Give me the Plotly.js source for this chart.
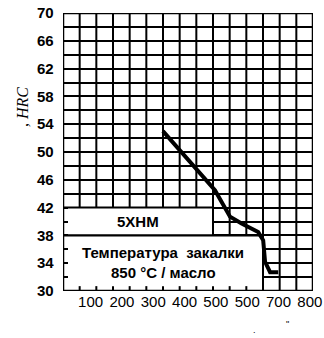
<!DOCTYPE html>
<html>
<head>
<meta charset="utf-8">
<script src="https://cdn.plot.ly/plotly-3.0.1.min.js"></script>
<style>html,body{margin:0;padding:0;background:#fff;}#chart{width:324px;height:338px;}</style>
</head>
<body>
<div id="chart"></div>
<script>
// Tempering temperature (°C) vs hardness (HRC)
const temps = [331, 417, 497, 545, 582, 635, 651, 657, 673, 699];
const hrc   = [53.0, 48.7, 44.5, 40.7, 39.7, 38.5, 37.3, 34.2, 32.7, 32.7];
// x tick labels as printed in the original (second "500" is as printed)
const xTickVals  = [100, 200, 300, 400, 500, 600, 700, 800];
const xTickText  = ['100', '200', '300', '400', '500', '500', '700', '800'];
const yTickVals  = [30, 32, 34, 36, 38, 40, 42, 44, 46, 48, 50, 52, 54, 56, 58, 60, 62, 64, 66, 68, 70];
const yTickText  = ['30', '', '34', '', '38', '', '42', '', '46', '', '50', '', '54', '', '58', '', '62', '', '66', '', '70'];
const steelGrade = '5ХНМ';
const noteLine1  = 'Температура  закалки';
const noteLine2  = '850 °С / масло';
const yTitle     = ', <i>HRC</i>';

// axis frame: the printed grid has 15 equal columns across the x range
const xMin = 12, xMax = 810, nCols = 15;
const yMin = 30, yMax = 70;
const colStep = (xMax - xMin) / nCols;
const box1Cols = 9, box2Cols = 12, box1Top = 42, box2Top = 38;
const tickLen = 0.7; // HRC units, about 5 px

const sans = 'Liberation Sans, Arial, sans-serif';

const shapes = [];
for (let k = 1; k < nCols; k++) {
  const gx = xMin + k * colStep;
  shapes.push({type: 'line', xref: 'x', yref: 'y', x0: gx, x1: gx, y0: yMin, y1: yMax,
               line: {color: '#000', width: 2}, layer: 'between'});
}
shapes.push({type: 'rect', xref: 'x', yref: 'y', x0: xMin, x1: xMin + box1Cols * colStep, y0: box2Top, y1: box1Top,
             fillcolor: '#fff', line: {color: '#000', width: 2}, layer: 'between'});
shapes.push({type: 'rect', xref: 'x', yref: 'y', x0: xMin, x1: xMin + box2Cols * colStep, y0: yMin, y1: box2Top,
             fillcolor: '#fff', line: {color: '#000', width: 2}, layer: 'between'});
for (let k = 1; k < box2Cols; k++) {
  const gx = xMin + k * colStep;
  shapes.push({type: 'line', xref: 'x', yref: 'y', x0: gx, x1: gx, y0: yMin, y1: yMin + tickLen,
               line: {color: '#000', width: 2}, layer: 'between'});
}
// outer frame
shapes.push({type: 'rect', xref: 'x', yref: 'y', x0: xMin, x1: xMax, y0: yMin, y1: yMax,
             line: {color: '#000', width: 2.5}, layer: 'above'});

const annotations = [
  {xref: 'x', yref: 'y', x: xMin + 4.5 * colStep, y: 40, text: '<b>' + steelGrade + '</b>', showarrow: false,
   font: {family: sans, size: 15, color: '#000'}},
  {xref: 'x', yref: 'y', x: xMin + 6 * colStep, y: 35.6, text: '<b>' + noteLine1 + '</b>', showarrow: false,
   font: {family: sans, size: 15, color: '#000'}},
  {xref: 'x', yref: 'y', x: xMin + 6 * colStep, y: 32.6, text: '<b>' + noteLine2 + '</b>', showarrow: false,
   font: {family: sans, size: 15, color: '#000'}},
  {xref: 'paper', yref: 'paper', x: -0.162, xanchor: 'center', y: 0.66, yanchor: 'middle',
   text: yTitle, textangle: -90, showarrow: false,
   font: {family: 'Liberation Serif, Times New Roman, serif', size: 16, color: '#000'}},
  {xref: 'paper', yref: 'paper', x: 0.78, y: -0.115, yanchor: 'top', text: '.', showarrow: false,
   font: {family: sans, size: 9, color: '#000'}},
  {xref: 'paper', yref: 'paper', x: 0.912, y: -0.095, yanchor: 'top', text: '"', showarrow: false,
   font: {family: sans, size: 9, color: '#000'}}
];

const layout = {
  width: 324, height: 338,
  margin: {l: 63, r: 11, t: 13, b: 47},
  showlegend: false,
  xaxis: {
    range: [xMin, xMax], tickmode: 'array', tickvals: xTickVals, ticktext: xTickText,
    showgrid: false,
    tickfont: {family: sans, size: 15, color: '#000'}
  },
  yaxis: {
    range: [yMin, yMax], tickmode: 'array', tickvals: yTickVals,
    ticktext: yTickText.map(t => t ? '<b>' + t + '</b>\u00a0\u00a0' : ''),
    showgrid: true, gridcolor: '#000', gridwidth: 2,
    ticks: 'inside', ticklen: 5, tickwidth: 2, tickcolor: '#000',
    tickfont: {family: sans, size: 15, color: '#000'}
  },
  shapes: shapes,
  annotations: annotations
};

Plotly.newPlot('chart', [{x: temps, y: hrc, type: 'scatter', mode: 'lines',
  line: {color: '#000', width: 4}}], layout, {staticPlot: true});
</script>
</body>
</html>
